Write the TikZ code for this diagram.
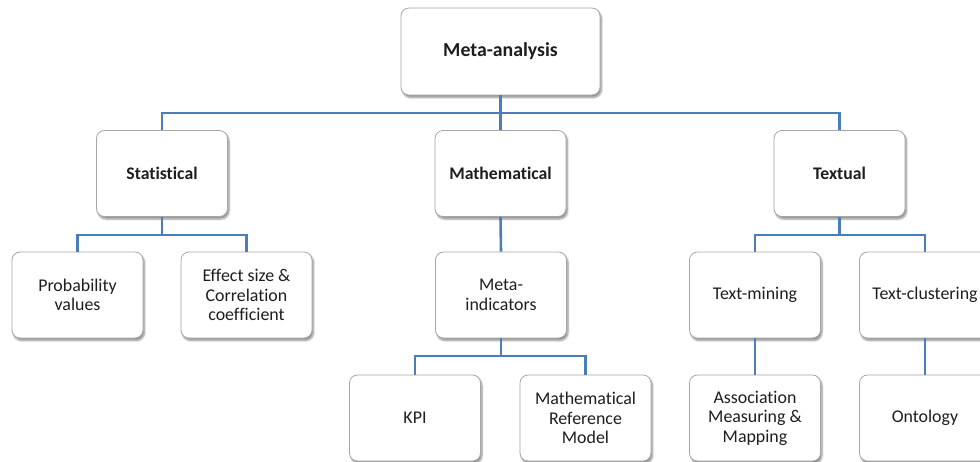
\documentclass[tikz,border=0pt]{standalone}
\usepackage{fontspec}
\setmainfont[Ligatures=CommonOff]{Carlito}
\usetikzlibrary{shadows.blur}
\definecolor{linkblue}{HTML}{4A7EBB}
\definecolor{boxline}{HTML}{A6A6A6}
\definecolor{ink}{HTML}{1E1E1E}

\begin{document}
\begin{tikzpicture}[x=1pt,y=-1pt,
  card/.style={draw=boxline, line width=0.8pt, fill=white, rounded corners=8pt,
    minimum width=131pt, minimum height=86pt, inner sep=0pt, align=center,
    text=ink, font=\fontsize{17.9}{19.5}\selectfont,
    blur shadow={shadow xshift=1.5pt, shadow yshift=-2.5pt, shadow blur steps=6, shadow opacity=45}},
  head/.style={card, font=\fontsize{17.7}{20}\selectfont\bfseries},
  link/.style={draw=linkblue, line width=2.6pt}
]
\useasboundingbox (0,0) rectangle (980,461);
\clip (0,0) rectangle (980,461);

% top level
\node[head, minimum width=199pt, minimum height=87pt, font=\fontsize{19.8}{22}\selectfont\bfseries] (meta) at (500.5,51.5) {Meta-analysis};

% second level
\node[head] (stat) at (162,173.5) {Statistical};
\node[head] (math) at (500.5,173.5) {Mathematical};
\node[head] (txt)  at (839.5,173.5) {Textual};

% third level
\node[card] (prob)  at (77.5,295)  {Probability\\values};
\node[card] (eff)   at (246.5,295) {Effect size \&\\Correlation\\coefficient};
\node[card] (mind)  at (501,295)   {Meta-\\indicators};
\node[card] (tmin)  at (755,295)   {Text-mining};
\node[card] (tclu)  at (925,295)   {Text-clustering};

% fourth level
\node[card] (kpi)   at (415,418)   {KPI};
\node[card] (mrm)   at (585.5,418) {Mathematical\\Reference\\Model};
\node[card] (assoc) at (755,418)   {Association\\Measuring \&\\Mapping};
\node[card] (onto)  at (925,418)   {Ontology};

% junctions of the connector bars
\coordinate (j0) at (500.5,113);
\coordinate (j1) at (162,235);
\coordinate (j2) at (501,356);
\coordinate (j3) at (839.5,235);

% connectors
\draw[link] (meta.south) -- (j0) -| (stat.north);
\draw[link] (j0) -| (txt.north);
\draw[link] (j0) -- (math.north);

\draw[link] (stat.south) -- (j1) -| (prob.north);
\draw[link] (j1) -| (eff.north);

\draw[link] (math.south) -- (mind.north);
\draw[link] (mind.south) -- (j2) -| (kpi.north);
\draw[link] (j2) -| (mrm.north);

\draw[link] (txt.south) -- (j3) -| (tmin.north);
\draw[link] (j3) -| (tclu.north);

\draw[link] (tmin.south) -- (assoc.north);
\draw[link] (tclu.south) -- (onto.north);
\end{tikzpicture}
\end{document}
